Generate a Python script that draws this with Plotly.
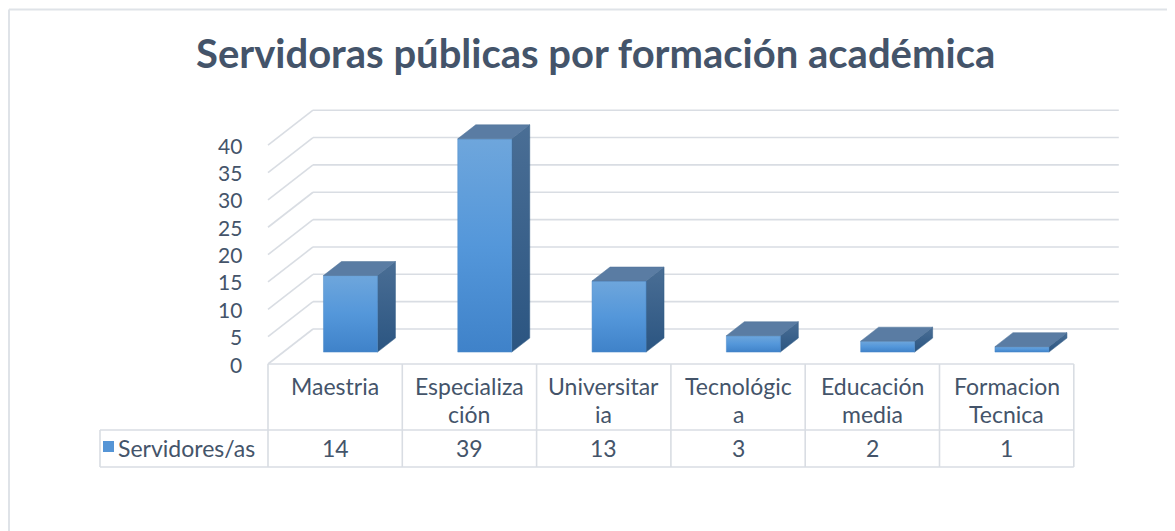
import plotly.graph_objects as go

# ---------------- data ----------------
title = "Servidoras públicas por formación académica"
series_name = "Servidores/as"
categories = ["Maestria", "Especialización", "Universitaria", "Tecnológica", "Educación media", "Formacion Tecnica"]
category_lines = [["Maestria"], ["Especializa", "ción"], ["Universitar", "ia"],
                  ["Tecnológic", "a"], ["Educación", "media"], ["Formacion", "Tecnica"]]
values = [14, 39, 13, 3, 2, 1]
y_ticks = [0, 5, 10, 15, 20, 25, 30, 35, 40]

# ---------------- geometry (pixel layout of the Excel-like chart) ----------------
W, H = 1175, 531
OFF = 8                # page body margin in the browser
COL_W = 134.3          # px per category column
X0PX = 268             # screen px left edge of first category column
YPX0 = 364             # screen px of value 0 on the front plane
PPU = 5.47             # px per value unit
n = len(categories)

xl = -0.5 - (X0PX - OFF) / COL_W
xr = xl + W / COL_W
yb = (YPX0 - OFF - H) / PPU
yt = (YPX0 - OFF) / PPU


def X(px):
    return xl + (px - OFF) / COL_W


def Y(py):
    return (YPX0 - py) / PPU


DX = 45 / COL_W        # depth vector of the floor
DY = 35 / PPU
F0, F1 = 0.34, 0.74    # bar front / back depth fraction
HW = 0.201             # half bar width (category units)

TXT = "#44546a"
GRID = "#d9dde3"
TABLE = "#d9dde3"
FONT = "Lato"
FS = 23

fig = go.Figure()
shapes = []

# walls gridlines
for v in y_ticks:
    shapes.append(dict(type="line", xref="x", yref="y", x0=-0.5, y0=v, x1=-0.5 + DX, y1=v + DY,
                       line=dict(color=GRID, width=1.6), layer="below"))
    shapes.append(dict(type="line", xref="x", yref="y", x0=-0.5 + DX, y0=v + DY, x1=n - 0.5 + DX, y1=v + DY,
                       line=dict(color=GRID, width=1.6), layer="below"))

# bars
for i, v in enumerate(values):
    xlf, xrf = i - HW + F0 * DX, i + HW + F0 * DX
    xlb, xrb = i - HW + F1 * DX, i + HW + F1 * DX
    yf0, yb0 = F0 * DY, F1 * DY
    # side face
    fig.add_trace(go.Scatter(
        x=[xrf, xrb, xrb, xrf, xrf], y=[yf0, yb0, v + yb0, v + yf0, yf0],
        mode="lines", fill="toself", line=dict(width=0.5, color="#2f5a85"),
        fillgradient=dict(type="vertical", colorscale=[[0, "#2b5581"], [1, "#4a6e95"]]),
        hoverinfo="skip", showlegend=False))
    # front face
    fig.add_trace(go.Scatter(
        x=[xlf, xrf, xrf, xlf, xlf], y=[yf0, yf0, v + yf0, v + yf0, yf0],
        mode="lines", fill="toself", line=dict(width=0.5, color="#4a88c8"),
        fillgradient=dict(type="vertical", colorscale=[[0, "#3f82c9"], [0.5, "#5497da"], [1, "#6ea6dc"]]),
        hoverinfo="skip", showlegend=False))
    # top face
    fig.add_trace(go.Scatter(
        x=[xlf, xrf, xrb, xlb, xlf], y=[v + yf0, v + yf0, v + yb0, v + yb0, v + yf0],
        mode="lines", fill="toself", line=dict(width=0.5, color="#4f7299"),
        fillcolor="#5a7ca3", hoverinfo="skip", showlegend=False))

# data table lines
tl = dict(color=TABLE, width=1.6)
shapes.append(dict(type="line", xref="x", yref="y", x0=-0.5, x1=n - 0.5, y0=Y(364), y1=Y(364), line=tl))
for k in range(n + 1):
    shapes.append(dict(type="line", xref="x", yref="y", x0=k - 0.5, x1=k - 0.5, y0=Y(364), y1=Y(467), line=tl))
for py in (430, 467):
    shapes.append(dict(type="line", xref="x", yref="y", x0=X(100), x1=n - 0.5, y0=Y(py), y1=Y(py), line=tl))
shapes.append(dict(type="line", xref="x", yref="y", x0=X(100), x1=X(100), y0=Y(430), y1=Y(467), line=tl))
# legend key in table
shapes.append(dict(type="rect", xref="x", yref="y", x0=X(103), x1=X(114), y0=Y(441), y1=Y(452),
                   fillcolor="#5595d6", line=dict(width=0)))

# chart border (top + left visible)
shapes.append(dict(type="line", xref="x", yref="y", x0=X(9), x1=xr, y0=Y(9.5), y1=Y(9.5),
                   line=dict(color="#dfe3e8", width=2)))
shapes.append(dict(type="line", xref="x", yref="y", x0=X(9), x1=X(9), y0=Y(9.5), y1=yb,
                   line=dict(color="#dfe3e8", width=2)))

ann = []
# y axis labels
for v in y_ticks:
    ann.append(dict(x=X(244), y=v, xref="x", yref="y", text=str(v), showarrow=False,
                    xanchor="right", yanchor="middle", font=dict(family=FONT, size=21, color=TXT)))
# category header
for i, lines in enumerate(category_lines):
    for k, t in enumerate(lines):
        ann.append(dict(x=i, y=Y(386 + 28 * k), xref="x", yref="y", text=t, showarrow=False,
                        xanchor="center", yanchor="middle", font=dict(family=FONT, size=FS, color=TXT)))
# values row
for i, v in enumerate(values):
    ann.append(dict(x=i, y=Y(448), xref="x", yref="y", text=str(v), showarrow=False,
                    xanchor="center", yanchor="middle", font=dict(family=FONT, size=FS, color=TXT)))
ann.append(dict(x=X(116), y=Y(448), xref="x", yref="y", text=series_name, showarrow=False,
                xanchor="left", yanchor="middle", font=dict(family=FONT, size=FS, color=TXT)))
# title
ann.append(dict(x=X(595), y=Y(53), xref="x", yref="y", text="<b>" + title + "</b>", showarrow=False,
                xanchor="center", yanchor="middle", font=dict(family=FONT, size=40, color=TXT)))

fig.update_layout(
    width=W, height=H, margin=dict(l=0, r=0, t=0, b=0),
    paper_bgcolor="white", plot_bgcolor="white", showlegend=False,
    xaxis=dict(range=[xl, xr], visible=False, fixedrange=True),
    yaxis=dict(range=[yb, yt], visible=False, fixedrange=True),
    shapes=shapes, annotations=ann,
)

fig.write_html("out.html")
